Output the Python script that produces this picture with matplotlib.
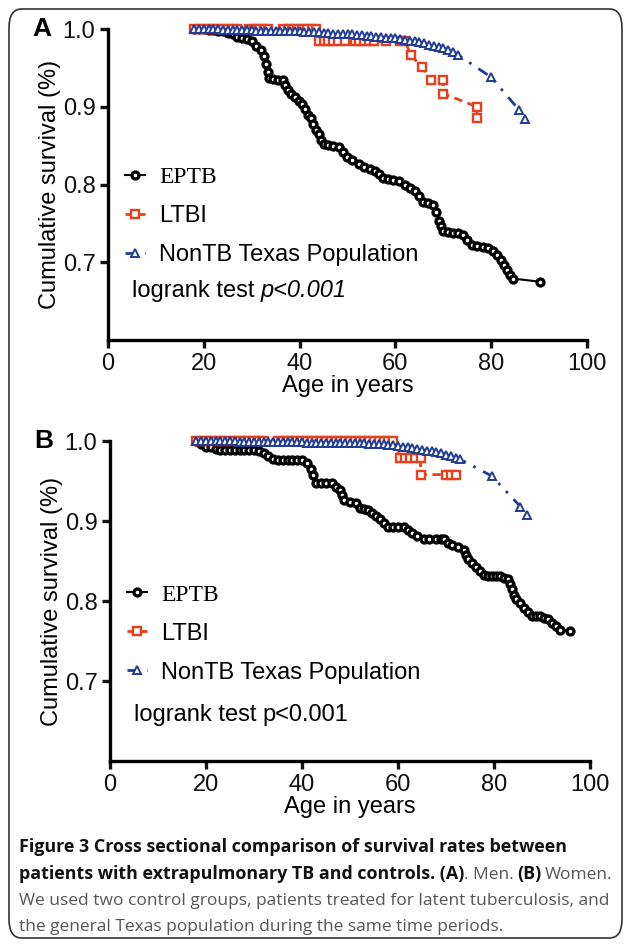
import numpy as np
import matplotlib
matplotlib.use('Agg')
import matplotlib.pyplot as plt
from matplotlib.patches import FancyBboxPatch

plt.rcParams['font.family'] = 'Liberation Sans'

# ---- data (age in years, cumulative survival) ----
# Panel A: men
eptb_a_age = [18, 19, 20, 21, 22, 23, 24, 25, 26, 27, 28, 29, 30, 31, 32, 32.5, 33, 33.3, 33.6,
              34.5, 35.5, 36.5, 37, 37.5, 38.3, 39, 39.8, 40.6, 41.2, 41.8, 42.3, 42.8, 43.4,
              44, 44.5, 45, 46, 47, 48.2, 49, 49.9, 51, 52.4, 53.5, 54.6, 55.7, 56.5, 57.4,
              58.5, 59.6, 60.8, 62, 63, 64.1, 65, 65.8, 66.8, 67.9, 68.5, 69.2, 69.6, 70, 71,
              72, 73, 74.2, 75, 75.9, 77, 78.2, 79.3, 80.3, 81.3, 82, 82.6, 83.3, 84, 84.6, 90.1]
eptb_a_surv = [1.0, 1.0, 1.0, 0.999, 0.999, 0.998, 0.997, 0.995, 0.993, 0.990, 0.989, 0.987,
               0.984, 0.978, 0.973, 0.965, 0.955, 0.945, 0.937, 0.936, 0.935, 0.934, 0.928,
               0.921, 0.916, 0.912, 0.908, 0.904, 0.897, 0.890, 0.886, 0.878, 0.870, 0.865,
               0.857, 0.852, 0.851, 0.850, 0.848, 0.842, 0.835, 0.831, 0.826, 0.823, 0.820,
               0.817, 0.813, 0.809, 0.807, 0.806, 0.804, 0.800, 0.796, 0.791, 0.785, 0.778,
               0.776, 0.774, 0.765, 0.753, 0.746, 0.740, 0.739, 0.738, 0.737, 0.735, 0.729,
               0.722, 0.721, 0.719, 0.718, 0.714, 0.709, 0.703, 0.697, 0.690, 0.684, 0.679, 0.675]

ltbi_a_age = [18, 19, 20, 21, 22, 23, 24, 25, 26, 27, 29.5, 30.5, 31.5, 32.5, 33.5, 36.5, 37.5,
              38.5, 39.5, 40.5, 41.5, 42.5, 43.5, 44, 45, 46, 47, 48, 49.5, 51.5, 52.5, 53.5,
              54.5, 55.5, 58, 61, 62, 63.3, 65.5, 67.5, 70, 70, 77, 77]
ltbi_a_surv = [1.0] * 23 + [0.984] * 14 + [0.966, 0.951, 0.934, 0.934, 0.917, 0.900, 0.885]

nontb_a_age = [18, 19, 20, 21, 22, 23, 24, 25, 26, 27, 28, 29, 30, 31, 32, 33, 34, 35, 36, 37,
               38, 39, 40, 41, 42, 43, 44, 45, 46, 47, 48, 49, 50, 51, 52, 53, 54, 55, 56, 57,
               58, 59, 60, 61, 62, 63, 64, 65, 66, 67, 68, 69, 70, 71, 72, 73, 80, 85.8, 87]
nontb_a_surv = [1.0, 1.0, 1.0, 1.0, 1.0, 1.0, 0.999, 0.999, 0.999, 0.999, 0.999, 0.999, 0.999,
                0.998, 0.998, 0.998, 0.998, 0.998, 0.998, 0.997, 0.997, 0.997, 0.997, 0.996,
                0.996, 0.996, 0.996, 0.995, 0.995, 0.994, 0.994, 0.993, 0.993, 0.993, 0.992,
                0.992, 0.991, 0.991, 0.990, 0.990, 0.989, 0.989, 0.988, 0.987, 0.986, 0.985,
                0.984, 0.983, 0.982, 0.980, 0.978, 0.977, 0.975, 0.973, 0.970, 0.967, 0.938,
                0.896, 0.884]

# Panel B: women
eptb_b_age = [18, 19, 20, 21, 22, 23, 24, 25, 26, 27, 28, 29, 30, 31, 32, 33, 34, 35, 36, 37,
              38, 39, 40, 41, 41.8, 42.3, 43, 44, 45, 46.2, 47, 47.9, 48.4, 48.8, 50, 51.2,
              52.1, 53, 53.8, 54.6, 55.4, 56.2, 57.1, 57.9, 59, 60, 61.2, 62, 62.9, 64, 65.4,
              66.5, 67.9, 69, 69.6, 70.4, 71.2, 72.5, 73.8, 74.2, 74.6, 75.4, 76.2, 77, 77.9,
              78.8, 79.6, 80.4, 81.2, 82, 82.9, 83.3, 83.8, 84.2, 84.6, 85.4, 86.2, 87, 87.9,
              88.8, 89.6, 90.4, 91.2, 92, 92.9, 93.8, 95.8]
eptb_b_surv = [1.0, 0.996, 0.993, 0.992, 0.990, 0.989, 0.989, 0.989, 0.989, 0.989, 0.989, 0.989,
               0.989, 0.987, 0.985, 0.981, 0.977, 0.976, 0.976, 0.976, 0.976, 0.976, 0.976,
               0.972, 0.965, 0.957, 0.947, 0.947, 0.947, 0.947, 0.943, 0.939, 0.932, 0.926,
               0.924, 0.922, 0.916, 0.915, 0.914, 0.910, 0.906, 0.902, 0.898, 0.892, 0.892,
               0.892, 0.892, 0.889, 0.885, 0.881, 0.877, 0.877, 0.877, 0.877, 0.877, 0.873,
               0.870, 0.867, 0.864, 0.858, 0.852, 0.848, 0.843, 0.838, 0.833, 0.831, 0.831,
               0.831, 0.831, 0.829, 0.827, 0.821, 0.815, 0.808, 0.802, 0.797, 0.791, 0.786,
               0.781, 0.781, 0.781, 0.779, 0.777, 0.773, 0.769, 0.764, 0.762]

ltbi_b_age = [18, 19, 20, 21, 22, 23, 24, 25, 26, 27, 28, 29, 30, 31, 32, 35, 36, 37, 38, 39,
              40, 41, 42, 43, 44, 45, 46, 47, 48, 49, 50, 51, 52, 53, 54, 55, 56, 57, 58, 59,
              60.5, 61.5, 62.5, 63.5, 64.7, 64.7, 70, 71, 72]
ltbi_b_surv = [1.0] * 40 + [0.979] * 5 + [0.958] * 4

nontb_b_age = [18, 19, 20, 21, 22, 23, 24, 25, 26, 27, 28, 29, 30, 31, 32, 33, 34, 35, 36, 37,
               38, 39, 40, 41, 42, 43, 44, 45, 46, 47, 48, 49, 50, 51, 52, 53, 54, 55, 56, 57,
               58, 59, 60, 61, 62, 63, 64, 65, 66, 67, 68, 69, 70, 71, 72, 73, 79.6, 85.5, 86.9]
nontb_b_surv = [1.0, 1.0, 1.0, 1.0, 1.0, 1.0, 1.0, 1.0, 1.0, 0.999, 0.999, 0.999, 0.999, 0.999,
                0.999, 0.999, 0.999, 0.999, 0.999, 0.999, 0.999, 0.999, 0.999, 0.998, 0.998,
                0.998, 0.998, 0.998, 0.998, 0.998, 0.997, 0.997, 0.997, 0.997, 0.997, 0.997,
                0.996, 0.996, 0.996, 0.996, 0.995, 0.995, 0.994, 0.993, 0.992, 0.991, 0.990,
                0.989, 0.988, 0.987, 0.986, 0.985, 0.983, 0.981, 0.979, 0.977, 0.956, 0.918,
                0.908]

x_ticks = [0, 20, 40, 60, 80, 100]
y_ticks = [0.7, 0.8, 0.9, 1.0]

black = '#000000'
red = '#e8401c'
blue = '#1f3c98'

W, H = 627, 947
fig = plt.figure(figsize=(W / 100, H / 100), dpi=100)

# rounded frame around the whole figure
frame = FancyBboxPatch((9 / W, 9 / H), 613 / W, 929 / H,
                       boxstyle='round,pad=0,rounding_size=0.02',
                       transform=fig.transFigure, facecolor='none',
                       edgecolor='#333333', linewidth=1.2)
fig.patches.append(frame)

ax_a = fig.add_axes([108 / W, 1 - 340 / H, 479 / W, 311 / H])
ax_b = fig.add_axes([110 / W, 1 - 761 / H, 480 / W, 320 / H])

fs = 17


def draw_panel(ax, eptb, ltbi, nontb, letter, italic_p, leg_y, logrank_y):
    ax.plot(eptb[0], eptb[1], color=black, lw=1.5, marker='o', ms=5,
            mfc='white', mec=black, mew=2.4, clip_on=False, label='EPTB', zorder=3)
    ax.plot(ltbi[0], ltbi[1], color=red, lw=2, ls=(0, (3, 2)), marker='s', ms=5.6,
            mfc='white', mec=red, mew=1.7, clip_on=False, label='LTBI', zorder=4)
    ax.plot(nontb[0], nontb[1], color=blue, lw=2, ls=(0, (4, 3, 1, 3, 1, 3)), marker='^',
            ms=6, mfc='white', mec=blue, mew=1.4, clip_on=False,
            label='NonTB Texas Population', zorder=5)

    ax.set_xlim(0, 100)
    ax.set_ylim(0.6, 1.0)
    ax.set_xticks(x_ticks)
    ax.set_yticks(y_ticks)
    ax.set_yticklabels(['0.7', '0.8', '0.9', '1.0'])
    for s in ['top', 'right']:
        ax.spines[s].set_visible(False)
    for s in ['left', 'bottom']:
        ax.spines[s].set_linewidth(2.4)
    ax.tick_params(width=2.4, length=6, labelsize=fs, colors='#111111', pad=3)
    ax.set_xlabel('Age in years', fontsize=fs, labelpad=0)
    ax.set_ylabel('Cumulative survival (%)', fontsize=fs, labelpad=1)

    leg = ax.legend(loc='upper left', bbox_to_anchor=(0.035, leg_y), frameon=False,
                    fontsize=fs, handlelength=0.85, handletextpad=0.6,
                    labelspacing=0.72, borderpad=0, borderaxespad=0)
    leg.get_texts()[0].set_fontfamily('Liberation Serif')

    t = ax.text(0.05, logrank_y, 'logrank test', transform=ax.transAxes,
                fontsize=fs, va='center')
    ax.annotate('p<0.001', xy=(1, 0), xycoords=t, xytext=(4.5, 0),
                textcoords='offset points', fontsize=fs, va='bottom',
                style='italic' if italic_p else 'normal')

    ax.text(-0.157, 1.0, letter, transform=ax.transAxes, fontsize=19,
            fontweight='bold', va='center', ha='left')


draw_panel(ax_a, (eptb_a_age, eptb_a_surv), (ltbi_a_age, ltbi_a_surv),
           (nontb_a_age, nontb_a_surv), 'A', True, 0.558, 0.158)
draw_panel(ax_b, (eptb_b_age, eptb_b_surv), (ltbi_b_age, ltbi_b_surv),
           (nontb_b_age, nontb_b_surv), 'B', False, 0.553, 0.144)

# ---- caption ----
bold_fs = 12.9
reg_fs = 12.5
gray = '#555555'
dark = '#111111'
x0 = 19 / W
fam = 'Open Sans'
fig.text(x0, 1 - 847 / H, 'Figure 3 Cross sectional comparison of survival rates between',
         fontsize=bold_fs, fontweight='bold', family=fam, va='center', color=dark)
p1 = fig.text(x0, 1 - 874 / H, 'patients with extrapulmonary TB and controls. (A)',
              fontsize=bold_fs, fontweight='bold', family=fam, va='center', color=dark)
q = plt.annotate('. Men.', xy=(1, 0), xycoords=p1, xytext=(0, 0), textcoords='offset points',
                 fontsize=reg_fs, family=fam, color=gray, va='bottom', annotation_clip=False)
q2 = plt.annotate('(B)', xy=(1, 0), xycoords=q, xytext=(2.5, 0), textcoords='offset points',
                  fontsize=bold_fs, family=fam, fontweight='bold', color=dark,
                  va='bottom', annotation_clip=False)
plt.annotate('Women.', xy=(1, 0), xycoords=q2, xytext=(2.5, 0), textcoords='offset points',
             fontsize=reg_fs, family=fam, color=gray, va='bottom', annotation_clip=False)
fig.text(x0, 1 - 901 / H,
         'We used two control groups, patients treated for latent tuberculosis, and',
         fontsize=reg_fs, family=fam, va='center', color=gray)
fig.text(x0, 1 - 927 / H, 'the general Texas population during the same time periods.',
         fontsize=reg_fs, family=fam, va='center', color=gray)

fig.savefig('out.png', dpi=100)
